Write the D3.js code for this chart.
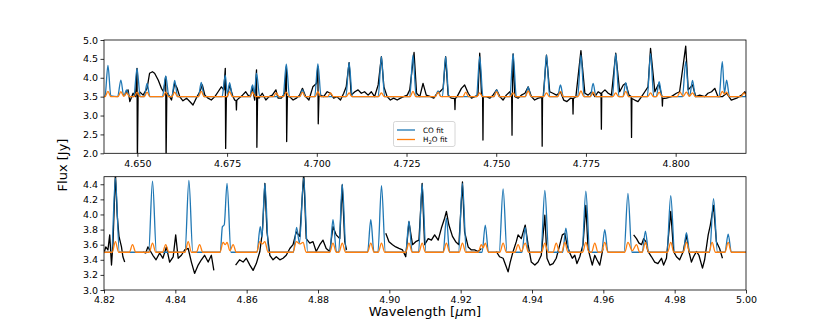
<!DOCTYPE html>
<html>
<head>
<meta charset="utf-8">
<script src="https://cdn.jsdelivr.net/npm/d3@7"></script>
<style>
body { margin: 0; background: #fff; }
svg { font-family: "DejaVu Sans", sans-serif; }
.axis path, .axis line { stroke: #000; stroke-width: 0.8; }
.axis text { font-size: 9.5px; fill: #000; font-family: "DejaVu Sans", sans-serif; }
</style>
</head>
<body>
<div class="container"></div>
<script>
// observed spectrum, top panel [wavelength um, flux Jy]
var obsTop = [
[4.6465,3.54],[4.6474,3.68],[4.6479,3.37],[4.6488,3.59],[4.6495,3.50],[4.6499,4.25],[4.6500,1.80],[4.6502,3.50],
[4.6506,3.63],[4.6516,3.54],[4.6527,3.72],[4.6534,4.12],[4.6542,4.16],[4.6548,4.12],[4.6558,3.94],[4.6567,3.72],
[4.6573,3.63],[4.6579,4.03],[4.6580,1.80],[4.6582,3.55],[4.6585,3.59],[4.6595,3.41],[4.6604,3.85],[4.6611,3.72],
[4.6618,3.50],[4.6627,3.39],[4.6637,3.46],[4.6646,3.37],[4.6655,3.28],[4.6664,3.46],[4.6674,3.63],[4.6681,3.81],
[4.6688,3.54],[4.6697,3.46],[4.6706,3.41],[4.6716,3.50],[4.6725,3.63],[4.6734,3.76],[4.6741,3.68],[4.6745,4.25],
[4.6746,2.13],[4.6748,3.50],[4.6751,3.50],[4.6757,3.81],[4.6765,3.54],[4.6771,3.41],[4.6775,3.40],[4.6776,3.15],
[4.6777,3.40],[4.6783,3.46],
[4.6793,3.54],[4.6802,3.63],[4.6808,3.54],[4.6815,3.50],[4.6820,3.76],[4.6827,3.41],[4.6832,4.21],[4.6833,2.16],
[4.6835,3.50],[4.6839,3.46],[4.6848,3.59],[4.6858,3.41],[4.6867,3.50],[4.6876,3.54],[4.6886,3.68],[4.6892,3.46],
[4.6901,3.46],[4.6911,3.59],[4.6915,4.29],[4.6916,2.31],[4.6918,3.50],[4.6924,3.50],[4.6934,3.41],[4.6943,3.46],
[4.6952,3.54],[4.6960,3.72],[4.6969,3.50],[4.6978,3.41],[4.6989,3.76],[4.6999,3.85],[4.7003,4.30],[4.7004,2.78],
[4.7006,3.50],[4.7010,3.54],[4.7019,3.50],[4.7029,3.63],[4.7038,3.59],[4.7047,3.46],[4.7056,3.50],[4.7066,3.41],
[4.7075,3.59],[4.7082,3.76],[4.7090,4.40],[4.7096,3.54],[4.7106,3.63],[4.7115,3.68],[4.7124,3.59],[4.7133,3.63],
[4.7143,3.54],[4.7152,3.63],[4.7161,3.50],[4.7171,3.81],[4.7180,4.56],[4.7187,3.76],[4.7196,3.50],[4.7205,3.41],
[4.7214,3.46],[4.7224,3.41],[4.7233,3.46],[4.7242,3.50],[4.7252,3.54],[4.7259,3.68],[4.7271,4.67],[4.7278,3.59],
[4.7287,3.50],[4.7296,3.85],[4.7305,3.54],[4.7317,3.50],[4.7326,3.46],[4.7335,3.59],[4.7343,3.63],[4.7352,3.72],
[4.7359,4.56],[4.7366,3.54],[4.7375,3.46],[4.7384,3.45],[4.7385,3.16],[4.7386,3.45],[4.7391,3.50],[4.7403,3.72],
[4.7412,3.81],[4.7422,3.59],
[4.7431,3.46],[4.7440,3.50],[4.7449,3.54],[4.7454,4.65],[4.7459,3.55],[4.7462,3.50],[4.7463,2.35],[4.7464,3.48],
[4.7466,3.50],[4.7473,3.50],[4.7482,3.46],
[4.7491,3.54],[4.7501,3.68],[4.7510,3.50],[4.7519,3.41],[4.7528,3.54],[4.7538,3.63],[4.7543,3.52],[4.7544,2.48],
[4.7545,3.50],[4.7547,4.63],
[4.7552,3.50],[4.7561,3.46],[4.7570,3.54],[4.7580,3.59],[4.7589,3.76],[4.7598,3.50],[4.7607,3.41],[4.7617,3.46],
[4.7627,3.48],[4.7628,2.19],[4.7629,3.48],[4.7631,3.50],[4.7640,4.60],[4.7649,3.63],[4.7658,3.59],[4.7668,3.54],
[4.7679,3.63],[4.7688,3.41],
[4.7697,3.37],[4.7707,3.46],[4.7713,3.45],[4.7714,3.04],[4.7715,3.45],[4.7722,3.50],[4.7736,4.72],[4.7747,3.59],
[4.7756,3.54],[4.7766,3.63],
[4.7775,3.50],[4.7784,3.63],[4.7792,3.58],[4.7793,2.64],[4.7794,3.60],[4.7803,3.68],[4.7812,3.59],[4.7821,3.54],
[4.7833,4.65],[4.7844,3.63],
[4.7854,3.81],[4.7861,3.85],[4.7870,3.54],[4.7876,3.50],[4.7877,2.42],[4.7878,3.45],[4.7886,3.41],[4.7895,3.37],
[4.7905,3.50],[4.7914,3.63],
[4.7923,3.76],[4.7930,4.78],[4.7942,3.63],[4.7953,3.85],[4.7962,3.50],[4.7963,3.25],[4.7964,3.45],[4.7974,3.46],
[4.7988,3.50],[4.8002,3.59],
[4.8011,3.63],[4.8028,4.84],[4.8035,3.68],[4.8047,3.81],[4.8056,3.50],[4.8067,3.54],[4.8081,3.50],[4.8090,3.59],
[4.8100,3.63],[4.8109,3.72],[4.8118,3.50],[4.8130,3.50],[4.8142,3.59],[4.8155,3.41],[4.8170,3.46],[4.8184,3.54],
[4.8193,3.63],[4.8197,3.50]
];

// CO fit, top panel
var coTop = [
[4.6407,3.50],[4.6410,3.52],[4.6418,4.33],[4.6426,3.52],[4.6445,3.50],[4.6454,3.94],[4.6462,3.52],[4.6470,3.68],
[4.6478,3.50],[4.6490,3.50],[4.6499,4.25],[4.6508,3.50],[4.6519,3.50],[4.6527,3.85],[4.6535,3.50],[4.6570,3.50],
[4.6579,4.05],[4.6588,3.50],[4.6596,3.50],[4.6604,3.93],[4.6612,3.50],[4.6670,3.50],[4.6678,3.88],[4.6686,3.50],
[4.6736,3.50],[4.6745,4.07],[4.6751,3.55],[4.6757,3.87],[4.6765,3.50],[4.6813,3.50],[4.6821,3.81],[4.6826,3.58],
[4.6832,4.12],[4.6841,3.50],[4.6906,3.50],[4.6915,4.36],[4.6924,3.50],[4.6952,3.50],[4.6960,3.68],[4.6968,3.50],
[4.6994,3.50],[4.7003,4.37],[4.7012,3.50],[4.7081,3.50],[4.7090,4.40],[4.7099,3.50],[4.7171,3.50],[4.7180,4.56],
[4.7189,3.50],[4.7259,3.50],[4.7268,4.60],[4.7277,3.50],[4.7330,3.50],[4.7338,3.65],[4.7345,3.51],[4.7350,3.50],
[4.7359,4.56],[4.7368,3.50],[4.7445,3.50],[4.7454,4.56],[4.7463,3.50],[4.7493,3.50],[4.7501,3.68],[4.7509,3.50],
[4.7538,3.50],[4.7547,4.63],[4.7556,3.50],[4.7581,3.50],[4.7589,3.75],[4.7597,3.50],[4.7631,3.50],[4.7640,4.60],
[4.7649,3.50],[4.7671,3.50],[4.7679,3.81],[4.7687,3.50],[4.7727,3.50],[4.7736,4.60],[4.7745,3.50],[4.7762,3.50],
[4.7770,3.85],[4.7778,3.50],[4.7824,3.50],[4.7833,4.63],[4.7842,3.50],[4.7853,3.50],[4.7861,3.87],[4.7869,3.50],
[4.7921,3.50],[4.7930,4.64],[4.7939,3.50],[4.7946,3.50],[4.7954,3.90],[4.7962,3.50],[4.8019,3.50],[4.8028,4.43],
[4.8037,3.52],[4.8039,3.52],[4.8047,3.93],[4.8055,3.50],[4.8121,3.50],[4.8130,4.43],[4.8136,3.60],[4.8142,3.94],
[4.8150,3.50],[4.8196,3.50]
];

// H2O fit, top panel
var h2oTop = [
[4.6407,3.50],[4.6410,3.50],[4.6418,3.64],[4.6426,3.50],[4.6446,3.50],[4.6454,3.63],[4.6462,3.51],[4.6470,3.60],
[4.6478,3.50],[4.6491,3.50],[4.6499,3.62],[4.6507,3.50],[4.6519,3.50],[4.6527,3.62],[4.6535,3.50],[4.6571,3.50],
[4.6579,3.62],[4.6587,3.50],[4.6596,3.50],[4.6604,3.62],[4.6612,3.50],[4.6670,3.50],[4.6678,3.64],[4.6686,3.50],
[4.6749,3.50],[4.6757,3.63],[4.6765,3.50],[4.6813,3.50],[4.6821,3.62],[4.6829,3.50],[4.6879,3.50],[4.6887,3.60],
[4.6895,3.50],[4.6907,3.50],[4.6915,3.62],[4.6923,3.50],[4.6952,3.50],[4.6960,3.62],[4.6968,3.50],[4.6995,3.50],
[4.7003,3.63],[4.7011,3.50],[4.7030,3.50],[4.7038,3.60],[4.7046,3.50],[4.7082,3.50],[4.7090,3.60],[4.7098,3.50],
[4.7172,3.50],[4.7180,3.60],[4.7188,3.50],[4.7260,3.50],[4.7268,3.64],[4.7276,3.50],[4.7330,3.50],[4.7338,3.62],
[4.7346,3.50],[4.7407,3.50],[4.7415,3.62],[4.7423,3.50],[4.7446,3.50],[4.7454,3.60],[4.7462,3.50],[4.7493,3.50],
[4.7501,3.63],[4.7509,3.50],[4.7539,3.50],[4.7547,3.60],[4.7555,3.50],[4.7581,3.50],[4.7589,3.65],[4.7597,3.50],
[4.7632,3.50],[4.7640,3.60],[4.7648,3.50],[4.7671,3.50],[4.7679,3.64],[4.7687,3.50],[4.7728,3.50],[4.7736,3.65],
[4.7744,3.50],[4.7762,3.50],[4.7770,3.62],[4.7778,3.50],[4.7825,3.50],[4.7833,3.60],[4.7841,3.50],[4.7853,3.50],
[4.7861,3.64],[4.7869,3.50],[4.7922,3.50],[4.7930,3.60],[4.7938,3.50],[4.7946,3.50],[4.7954,3.62],[4.7962,3.50],
[4.8004,3.50],[4.8012,3.62],[4.8021,3.51],[4.8030,3.62],[4.8038,3.51],[4.8047,3.60],[4.8055,3.50],[4.8122,3.50],
[4.8130,3.64],[4.8136,3.57],[4.8142,3.62],[4.8150,3.50],[4.8182,3.50],[4.8190,3.60],[4.8196,3.54]
];

// observed spectrum, bottom panel (null = gap in the data)
var obsBottom = [
[4.8200,3.49],[4.8205,3.57],[4.8211,3.53],[4.8216,3.73],[4.8221,3.33],[4.8225,3.60],[4.8232,4.55],[4.8237,3.99],
[4.8242,3.71],[4.8249,3.57],[4.8253,3.44],[4.8258,3.37],null,
[4.8309,3.50],[4.8317,3.49],[4.8323,3.57],[4.8337,3.46],[4.8346,3.40],[4.8356,3.49],[4.8365,3.42],[4.8375,3.57],
[4.8384,3.37],[4.8394,3.44],[4.8401,3.73],[4.8408,3.42],[4.8417,3.46],[4.8426,3.53],[4.8436,3.55],[4.8445,3.37],
[4.8454,3.22],[4.8464,3.33],[4.8473,3.40],[4.8482,3.46],[4.8492,3.37],[4.8501,3.46],[4.8508,3.26],null,
[4.8569,3.33],[4.8580,3.40],[4.8590,3.37],[4.8599,3.42],[4.8609,3.33],[4.8618,3.26],[4.8627,3.35],[4.8637,3.51],
[4.8644,3.77],[4.8651,4.41],[4.8657,3.77],[4.8665,3.46],[4.8674,3.40],[4.8683,3.44],[4.8693,3.40],[4.8702,3.42],
[4.8711,3.46],[4.8721,3.55],[4.8730,3.60],[4.8739,3.77],[4.8749,3.71],[4.8760,4.55],[4.8767,3.68],[4.8777,3.62],
[4.8786,3.64],[4.8795,3.51],[4.8805,3.60],[4.8814,3.66],[4.8823,3.55],[4.8833,3.51],[4.8842,3.84],[4.8851,3.73],
[4.8861,3.68],[4.8868,4.39],[4.8875,3.64],[4.8880,3.53],null,
[4.8990,3.75],[4.8999,3.64],[4.9009,3.60],[4.9018,3.57],[4.9027,3.55],[4.9037,3.53],[4.9046,3.44],[4.9055,3.90],
[4.9065,3.60],[4.9074,3.64],[4.9083,3.66],[4.9092,4.41],[4.9099,3.60],[4.9109,3.68],[4.9118,3.66],[4.9127,3.73],
[4.9137,3.66],[4.9146,3.82],[4.9155,3.95],[4.9160,4.04],[4.9167,3.86],[4.9177,3.71],[4.9186,3.64],[4.9195,3.60],
[4.9205,4.43],[4.9211,3.77],[4.9221,3.57],[4.9230,3.53],[4.9239,3.53],[4.9249,3.51],[4.9258,3.55],null,
[4.9300,3.51],[4.9309,3.44],[4.9319,3.42],[4.9326,3.33],[4.9333,3.24],[4.9339,3.37],[4.9347,3.51],[4.9356,3.64],
[4.9361,3.73],[4.9370,3.68],[4.9381,3.86],[4.9389,3.60],[4.9398,3.37],[4.9408,3.33],[4.9417,3.37],[4.9426,3.46],
[4.9436,3.99],[4.9442,3.42],[4.9450,3.33],[4.9459,3.35],[4.9468,3.42],[4.9478,3.60],[4.9485,3.73],[4.9492,3.75],
[4.9498,3.60],[4.9506,3.49],[4.9513,3.42],[4.9520,3.46],[4.9526,3.35],[4.9534,3.44],[4.9543,3.60],[4.9551,4.12],
[4.9557,3.55],[4.9564,3.42],[4.9569,3.33],[4.9576,3.46],[4.9582,3.40],[4.9590,3.33],[4.9599,3.55],null,
[4.9685,3.73],[4.9693,3.68],[4.9700,3.62],[4.9707,3.60],[4.9713,3.68],[4.9719,3.64],[4.9725,3.51],[4.9735,3.44],
[4.9744,3.37],[4.9753,3.35],[4.9763,3.42],[4.9769,3.33],[4.9777,3.42],[4.9789,4.04],[4.9797,3.51],[4.9805,3.44],
[4.9814,3.40],[4.9824,3.51],[4.9833,3.73],[4.9840,3.51],[4.9847,3.37],[4.9853,3.44],[4.9861,3.51],[4.9868,3.46],
[4.9878,3.29],[4.9884,3.40],[4.9894,3.73],[4.9900,3.86],[4.9909,4.12],[4.9917,3.64],[4.9926,3.55],[4.9934,3.42]
];

// CO fit, bottom panel
var coBottom = [
[4.8200,3.50],[4.8221,3.50],[4.8232,4.48],[4.8243,3.50],[4.8325,3.50],[4.8336,4.44],[4.8347,3.50],[4.8427,3.50],
[4.8438,4.45],[4.8449,3.50],[4.8526,3.50],[4.8532,3.84],[4.8537,3.86],[4.8545,4.41],[4.8556,3.50],[4.8629,3.50],
[4.8638,3.84],[4.8643,3.70],[4.8651,4.41],[4.8662,3.50],[4.8731,3.50],[4.8740,3.83],[4.8748,3.62],[4.8760,4.48],
[4.8771,3.50],[4.8833,3.50],[4.8842,3.93],[4.8852,3.50],[4.8858,3.50],[4.8868,4.40],[4.8879,3.50],[4.8939,3.50],
[4.8948,3.93],[4.8957,3.50],[4.8968,3.50],[4.8978,4.38],[4.8989,3.50],[4.9046,3.50],[4.9055,3.91],[4.9064,3.50],
[4.9082,3.50],[4.9092,4.40],[4.9103,3.50],[4.9151,3.50],[4.9160,3.95],[4.9169,3.50],[4.9194,3.50],[4.9205,4.41],
[4.9216,3.50],[4.9260,3.50],[4.9269,3.86],[4.9278,3.50],[4.9308,3.50],[4.9319,4.34],[4.9330,3.50],[4.9372,3.50],
[4.9381,3.83],[4.9390,3.50],[4.9425,3.50],[4.9436,4.32],[4.9447,3.50],[4.9486,3.50],[4.9495,3.82],[4.9504,3.50],
[4.9540,3.50],[4.9551,4.31],[4.9562,3.50],[4.9595,3.50],[4.9604,3.80],[4.9613,3.50],[4.9658,3.50],[4.9669,4.28],
[4.9680,3.50],[4.9709,3.50],[4.9718,3.78],[4.9727,3.50],[4.9778,3.50],[4.9789,4.25],[4.9800,3.50],[4.9824,3.50],
[4.9833,3.76],[4.9842,3.50],[4.9898,3.50],[4.9909,4.21],[4.9920,3.50],[4.9941,3.50],[4.9950,3.74],[4.9959,3.50],
[5.0000,3.50]
];

// H2O fit, bottom panel
var h2oBottom = [
[4.8200,3.50],[4.8223,3.50],[4.8232,3.64],[4.8241,3.50],[4.8271,3.50],[4.8280,3.60],[4.8289,3.50],[4.8327,3.50],
[4.8336,3.62],[4.8345,3.50],[4.8364,3.50],[4.8373,3.60],[4.8382,3.50],[4.8427,3.50],[4.8436,3.64],[4.8445,3.50],
[4.8459,3.50],[4.8468,3.60],[4.8477,3.50],[4.8525,3.50],[4.8534,3.63],[4.8540,3.60],[4.8545,3.63],[4.8553,3.52],
[4.8562,3.60],[4.8571,3.50],[4.8628,3.50],[4.8637,3.64],[4.8644,3.61],[4.8651,3.64],[4.8660,3.50],[4.8730,3.50],
[4.8739,3.64],[4.8749,3.61],[4.8758,3.63],[4.8767,3.50],[4.8833,3.50],[4.8842,3.62],[4.8851,3.50],[4.8859,3.50],
[4.8868,3.62],[4.8877,3.50],[4.8939,3.50],[4.8948,3.62],[4.8957,3.50],[4.8969,3.50],[4.8978,3.62],[4.8987,3.50],
[4.9046,3.50],[4.9055,3.62],[4.9064,3.50],[4.9083,3.50],[4.9092,3.62],[4.9101,3.50],[4.9151,3.50],[4.9160,3.62],
[4.9169,3.50],[4.9196,3.50],[4.9205,3.62],[4.9214,3.50],[4.9249,3.50],[4.9258,3.60],[4.9263,3.56],[4.9269,3.62],
[4.9278,3.50],[4.9310,3.50],[4.9319,3.62],[4.9328,3.50],[4.9352,3.50],[4.9361,3.60],[4.9370,3.51],[4.9381,3.62],
[4.9390,3.50],[4.9427,3.50],[4.9436,3.62],[4.9445,3.50],[4.9459,3.50],[4.9468,3.62],[4.9477,3.50],[4.9483,3.50],
[4.9492,3.63],[4.9501,3.50],[4.9542,3.50],[4.9551,3.63],[4.9560,3.50],[4.9567,3.50],[4.9576,3.62],[4.9585,3.50],
[4.9595,3.50],[4.9604,3.63],[4.9613,3.50],[4.9660,3.50],[4.9669,3.63],[4.9681,3.52],[4.9693,3.60],[4.9702,3.50],
[4.9709,3.50],[4.9718,3.63],[4.9727,3.50],[4.9780,3.50],[4.9789,3.63],[4.9798,3.50],[4.9824,3.50],[4.9833,3.63],
[4.9842,3.50],[4.9896,3.50],[4.9905,3.63],[4.9914,3.50],[4.9941,3.50],[4.9950,3.63],[4.9959,3.50],[5.0000,3.50]
];

var topXTicks = [4.650, 4.675, 4.700, 4.725, 4.750, 4.775, 4.800];
var topYTicks = [2.0, 2.5, 3.0, 3.5, 4.0, 4.5, 5.0];
var bottomXTicks = [4.82, 4.84, 4.86, 4.88, 4.90, 4.92, 4.94, 4.96, 4.98, 5.00];
var bottomYTicks = [3.0, 3.2, 3.4, 3.6, 3.8, 4.0, 4.2, 4.4];
var legendLabels = ["CO fit", "H2O fit"];

const WIDTH = 830;
const HEIGHT = 332;
const LEFT = 104;
const RIGHT = 746;
const BLUE = "#1f77b4";
const ORANGE = "#ff7f0e";

var svg = d3.select(".container").append("svg")
	.attr("width", WIDTH)
	.attr("height", HEIGHT);

var translate = function(x, y){
	return "translate(" + x + "," + y + ")";
};

var drawPanel = function(id, top, bottom, xDomain, yDomain, xTicks, yTicks, xFmt, series){
	var xScale = d3.scaleLinear().domain(xDomain).range([LEFT, RIGHT]);
	var yScale = d3.scaleLinear().domain(yDomain).range([bottom, top]);

	svg.append("clipPath").attr("id", id)
		.append("rect")
		.attr("x", LEFT).attr("y", top)
		.attr("width", RIGHT - LEFT).attr("height", bottom - top);

	var line = d3.line()
		.defined(function(d){ return d !== null; })
		.x(function(d){ return xScale(d[0]); })
		.y(function(d){ return yScale(d[1]); });

	var g = svg.append("g").attr("clip-path", "url(#" + id + ")");
	series.forEach(function(s){
		g.append("path")
			.attr("d", line.curve(s.curve || d3.curveLinear)(s.data))
			.attr("fill", "none")
			.attr("stroke", s.color)
			.attr("stroke-width", 1.3)
			.attr("stroke-linejoin", "round");
	});

	svg.append("rect")
		.attr("x", LEFT).attr("y", top)
		.attr("width", RIGHT - LEFT).attr("height", bottom - top)
		.attr("fill", "none")
		.attr("stroke", "#000")
		.attr("stroke-width", 0.8);

	svg.append("g")
		.attr("class", "axis")
		.attr("transform", translate(0, bottom))
		.call(d3.axisBottom(xScale).tickValues(xTicks).tickFormat(d3.format(xFmt)).tickSizeOuter(0).tickSize(3.5).tickPadding(3))
		.call(function(a){ a.select(".domain").remove(); });

	svg.append("g")
		.attr("class", "axis")
		.attr("transform", translate(LEFT, 0))
		.call(d3.axisLeft(yScale).tickValues(yTicks).tickFormat(d3.format(".1f")).tickSizeOuter(0).tickSize(3.5).tickPadding(2.5))
		.call(function(a){ a.select(".domain").remove(); });
};

drawPanel("clipTop", 40, 153.3, [4.6407, 4.8196], [2.0, 5.0], topXTicks, topYTicks, ".3f", [
	{data: obsTop, color: "#000"},
	{data: coTop, color: BLUE, curve: d3.curveMonotoneX},
	{data: h2oTop, color: ORANGE, curve: d3.curveMonotoneX}
]);

drawPanel("clipBottom", 176.7, 290, [4.82, 5.00], [3.0, 4.5], bottomXTicks, bottomYTicks, ".2f", [
	{data: obsBottom, color: "#000"},
	{data: coBottom, color: BLUE, curve: d3.curveMonotoneX},
	{data: h2oBottom, color: ORANGE, curve: d3.curveMonotoneX}
]);

// legend
var legend = svg.append("g").attr("transform", translate(393.5, 121.5));
legend.append("rect")
	.attr("width", 61.5).attr("height", 25)
	.attr("rx", 2)
	.attr("fill", "#fff").attr("fill-opacity", 0.8)
	.attr("stroke", "#ccc").attr("stroke-width", 0.8);
[BLUE, ORANGE].forEach(function(c, i){
	legend.append("line")
		.attr("x1", 3.5).attr("x2", 21.5)
		.attr("y1", 8.5 + i * 9.5).attr("y2", 8.5 + i * 9.5)
		.attr("stroke", c).attr("stroke-width", 1.3);
});
legend.append("text")
	.attr("x", 29.5).attr("y", 11.2)
	.attr("font-size", "7.3px")
	.text(legendLabels[0]);
var h2oText = legend.append("text")
	.attr("x", 29.5).attr("y", 20.7)
	.attr("font-size", "7.3px");
h2oText.append("tspan").text("H");
h2oText.append("tspan").attr("font-size", "5.2px").attr("dy", 1.5).text("2");
h2oText.append("tspan").attr("dy", -1.5).text("O fit");

// axis labels
svg.append("text")
	.attr("transform", translate(62, 165) + " rotate(-90)")
	.attr("text-anchor", "middle")
	.attr("dy", "0.35em")
	.attr("font-size", "13px")
	.text("Flux [Jy]");

var xl = svg.append("text")
	.attr("x", 425).attr("y", 316)
	.attr("text-anchor", "middle")
	.attr("font-size", "13px");
xl.append("tspan").text("Wavelength [");
xl.append("tspan").attr("font-style", "italic").text("\u03bc");
xl.append("tspan").text("m]");
</script>
</body>
</html>
